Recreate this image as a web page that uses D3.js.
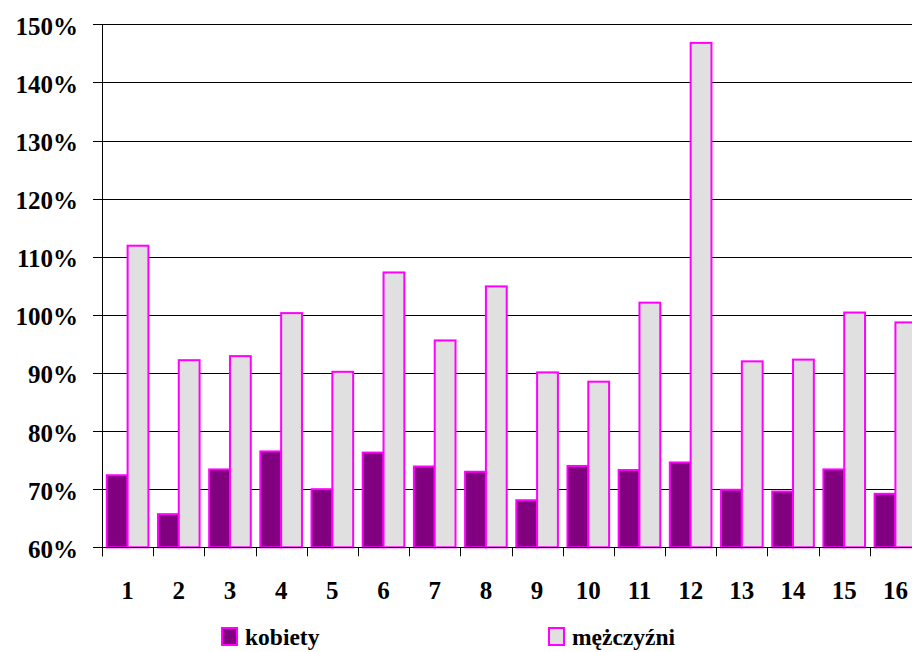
<!DOCTYPE html>
<html>
<head>
<meta charset="utf-8">
<script src="https://cdn.jsdelivr.net/npm/d3@7"></script>
<style>
  body { margin: 0; background: #fff; }
  svg { display: block; }
</style>
</head>
<body>
<svg width="912" height="652"></svg>
<script>
// categories and values (percent)
var categories = ["1","2","3","4","5","6","7","8","9","10","11","12","13","14","15","16"]
var series = ["kobiety", "mężczyźni"]
var kobiety = [72.4, 65.7, 73.4, 76.5, 70.0, 76.3, 73.9, 73.0, 68.1, 74.0, 73.3, 74.6, 69.9, 69.6, 73.4, 69.2]
var mezczyzni = [111.9, 92.2, 92.9, 100.3, 90.2, 107.3, 95.6, 104.9, 90.1, 88.5, 102.1, 146.8, 92.0, 92.3, 100.4, 98.7]
var y_ticks = [60, 70, 80, 90, 100, 110, 120, 130, 140, 150]

var fills = {"kobiety": "#800080", "mężczyźni": "#E0E0E0"}
var bar_stroke = "#FF00FF"
var font = "'Liberation Serif', 'DejaVu Serif Condensed', 'DejaVu Serif', serif"

var plot_left = 102
var plot_right = 921
var plot_top = 24.3
var plot_bottom = 547.3

var svg = d3.select("svg")

var x0 = d3.scaleBand()
  .domain(categories)
  .range([plot_left, plot_right])
  .padding(0)

var x1 = d3.scaleBand()
  .domain(series)
  .range([0, x0.bandwidth()])
  .paddingInner(0)
  .paddingOuter(0.23)

var y = d3.scaleLinear()
  .domain([60, 150])
  .range([plot_bottom, plot_top])

var rows = categories.map(function(c, i){
    return {cat: c, values: [{s: "kobiety", v: kobiety[i]}, {s: "mężczyźni", v: mezczyzni[i]}]}
})

/*********
*grid
*********/
svg.append("g")
  .attr("class", "grid")
  .selectAll("line")
  .data(y_ticks)
  .enter()
  .append("line")
  .attr("x1", plot_left - 9)
  .attr("x2", plot_right)
  .attr("y1", function(d){ return Math.round(y(d)) + 0.5 })
  .attr("y2", function(d){ return Math.round(y(d)) + 0.5 })
  .attr("stroke", "#000")
  .attr("stroke-width", 1)

/*********
*bars
*********/
var groups = svg.append("g")
  .attr("class", "bars")
  .selectAll("g")
  .data(rows)
  .enter()
  .append("g")
  .attr("transform", function(d){ return "translate(" + x0(d.cat) + ",0)" })

groups.selectAll("rect")
  .data(function(d){ return d.values })
  .enter()
  .append("rect")
  .attr("x", function(d){ return x1(d.s) })
  .attr("y", function(d){ return y(d.v) })
  .attr("width", x1.bandwidth())
  .attr("height", function(d){ return y(60) - y(d.v) })
  .attr("fill", function(d){ return fills[d.s] })
  .attr("stroke", bar_stroke)
  .attr("stroke-width", 2)

/*********
*axes
*********/
// y axis line
svg.append("line")
  .attr("x1", plot_left + 0.5)
  .attr("x2", plot_left + 0.5)
  .attr("y1", plot_top)
  .attr("y2", plot_bottom + 9)
  .attr("stroke", "#000")

// baseline
svg.append("line")
  .attr("x1", plot_left - 9)
  .attr("x2", plot_right)
  .attr("y1", Math.round(plot_bottom) + 0.5)
  .attr("y2", Math.round(plot_bottom) + 0.5)
  .attr("stroke", "#000")

svg.append("g")
  .selectAll("text")
  .data(y_ticks)
  .enter()
  .append("text")
  .attr("x", 78)
  .attr("y", function(d){ return y(d) + 10.5 })
  .attr("text-anchor", "end")
  .attr("font-family", font)
  .attr("font-weight", "bold")
  .attr("font-size", 25)
  .text(function(d){ return d + "%" })

// category ticks on band edges
svg.append("g")
  .selectAll("line")
  .data(categories)
  .enter()
  .append("line")
  .attr("x1", function(d){ return Math.round(x0(d)) + 0.5 })
  .attr("x2", function(d){ return Math.round(x0(d)) + 0.5 })
  .attr("y1", plot_bottom)
  .attr("y2", plot_bottom + 9)
  .attr("stroke", "#000")

svg.append("g")
  .selectAll("text")
  .data(categories)
  .enter()
  .append("text")
  .attr("x", function(d){ return x0(d) + x0.bandwidth()/2 })
  .attr("y", 599)
  .attr("text-anchor", "middle")
  .attr("font-family", font)
  .attr("font-weight", "bold")
  .attr("font-size", 25)
  .text(function(d){ return d })

/*********
*legend
*********/
var legend_x = [222, 549]

var leg = svg.append("g")
  .attr("class", "legend")
  .selectAll("g")
  .data(series)
  .enter()
  .append("g")
  .attr("transform", function(d, i){ return "translate(" + legend_x[i] + ",628)" })

leg.append("rect")
  .attr("width", 15)
  .attr("height", 17)
  .attr("fill", function(d){ return fills[d] })
  .attr("stroke", bar_stroke)
  .attr("stroke-width", 2)

leg.append("text")
  .attr("x", 23)
  .attr("y", 17)
  .attr("font-family", font)
  .attr("font-weight", "bold")
  .attr("font-size", 23.5)
  .text(function(d){ return d })
</script>
</body>
</html>
